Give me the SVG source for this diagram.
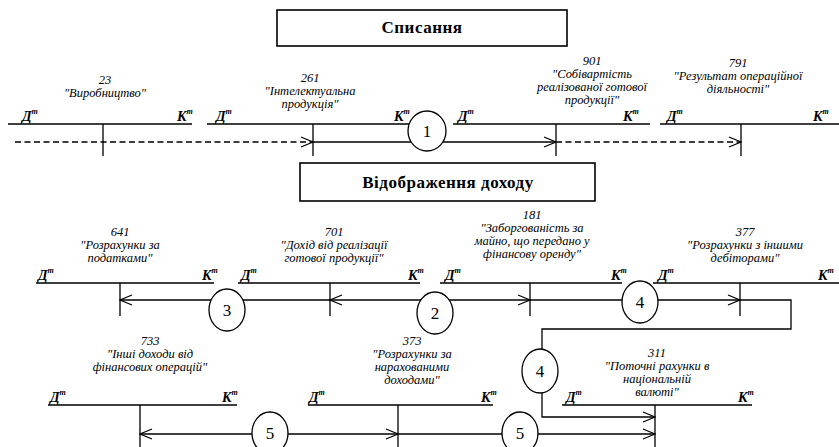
<svg xmlns="http://www.w3.org/2000/svg" width="839" height="447" viewBox="0 0 839 447">
<defs>
<marker id="arr" markerUnits="userSpaceOnUse" markerWidth="14" markerHeight="12" viewBox="0 0 14 12" refX="13" refY="6" orient="auto">
<path d="M1,1 L13,6 L1,11" fill="none" stroke="#000" stroke-width="1.3"/>
</marker>
<style>
.ln{stroke:#000;stroke-width:1.3;fill:none}
.bx{fill:#fff;stroke:#000;stroke-width:1.6}
.bt{font-weight:bold;font-size:17px;letter-spacing:0.5px;text-anchor:middle}
.tt{font-style:italic;font-size:12.5px;text-anchor:middle}
.dk{font-style:italic;font-weight:bold;font-size:14px}
.sp{font-size:8px}
.ci{fill:#fff;stroke:#000;stroke-width:1.3}
.cn{font-size:17px;text-anchor:middle}
.da{stroke-dasharray:6 3.5}
</style>
</defs>
<rect width="839" height="447" fill="#fff"/>
<g font-family="Liberation Serif, DejaVu Serif, serif">

<g id="box-spysannia">
<rect class="bx" x="277" y="10" width="290" height="36"/>
<text class="bt" x="422" y="33">Списання</text>
</g>
<g id="box-vidobrazhennia">
<rect class="bx" x="300" y="163" width="295" height="38"/>
<text class="bt" x="448" y="188">Відображення доходу</text>
</g>

<g id="connectors">
<path class="ln da" d="M15,142 H313" marker-end="url(#arr)"/>
<path class="ln" d="M313,142 H427"/>
<path class="ln" d="M427,142 H556" marker-end="url(#arr)"/>
<path class="ln da" d="M556,142 H741" marker-end="url(#arr)"/>
<path class="ln" d="M330,300 H120" marker-end="url(#arr)"/>
<path class="ln" d="M435,300 H330" marker-end="url(#arr)"/>
<path class="ln" d="M435,300 H530" marker-end="url(#arr)"/>
<path class="ln" d="M530,300 H740" marker-end="url(#arr)"/>
<path class="ln" d="M740,300 H791 V329 H542 V417 H655" marker-end="url(#arr)"/>
<path class="ln" d="M270,434 H140" marker-end="url(#arr)"/>
<path class="ln" d="M270,434 H398" marker-end="url(#arr)"/>
<path class="ln" d="M398,434 H655" marker-end="url(#arr)"/>
</g>

<g id="acc-23">
<text class="tt" x="105" y="84">23</text>
<text class="tt" x="105" y="97">"Виробництво"</text>
<path class="ln" d="M8,124 H192 M103,124 V156"/>
<text class="dk" x="22" y="121">Д<tspan class="sp" dy="-7">т</tspan></text>
<text class="dk" x="177" y="121">К<tspan class="sp" dy="-7">т</tspan></text>
</g>
<g id="acc-261">
<text class="tt" x="310" y="82">261</text>
<text class="tt" x="310" y="95">"Інтелектуальна</text>
<text class="tt" x="310" y="108">продукція"</text>
<path class="ln" d="M207,124 H410 M313,124 V156"/>
<text class="dk" x="216" y="121">Д<tspan class="sp" dy="-7">т</tspan></text>
<text class="dk" x="394" y="121">К<tspan class="sp" dy="-7">т</tspan></text>
</g>
<g id="acc-901">
<text class="tt" x="592" y="65">901</text>
<text class="tt" x="592" y="78">"Собівартість</text>
<text class="tt" x="592" y="91">реалізованої готової</text>
<text class="tt" x="592" y="104">продукції"</text>
<path class="ln" d="M453,124 H650 M556,124 V156"/>
<text class="dk" x="458" y="121">Д<tspan class="sp" dy="-7">т</tspan></text>
<text class="dk" x="623" y="121">К<tspan class="sp" dy="-7">т</tspan></text>
</g>
<g id="acc-791">
<text class="tt" x="738" y="67">791</text>
<text class="tt" x="738" y="80">"Результат операційної</text>
<text class="tt" x="738" y="93">діяльності"</text>
<path class="ln" d="M660,124 H839 M741,124 V156"/>
<text class="dk" x="667" y="121">Д<tspan class="sp" dy="-7">т</tspan></text>
<text class="dk" x="813" y="121">К<tspan class="sp" dy="-7">т</tspan></text>
</g>

<g id="acc-641">
<text class="tt" x="120" y="236">641</text>
<text class="tt" x="120" y="249">"Розрахунки за</text>
<text class="tt" x="120" y="262">податками"</text>
<path class="ln" d="M36,283 H214 M120,283 V316"/>
<text class="dk" x="38" y="280">Д<tspan class="sp" dy="-7">т</tspan></text>
<text class="dk" x="202" y="280">К<tspan class="sp" dy="-7">т</tspan></text>
</g>
<g id="acc-701">
<text class="tt" x="334" y="236">701</text>
<text class="tt" x="334" y="249">"Дохід від реалізації</text>
<text class="tt" x="334" y="262">готової продукції"</text>
<path class="ln" d="M238,283 H420 M330,283 V316"/>
<text class="dk" x="241" y="280">Д<tspan class="sp" dy="-7">т</tspan></text>
<text class="dk" x="408" y="280">К<tspan class="sp" dy="-7">т</tspan></text>
</g>
<g id="acc-181">
<text class="tt" x="532" y="219">181</text>
<text class="tt" x="532" y="232">"Заборгованість за</text>
<text class="tt" x="532" y="245">майно, що передано у</text>
<text class="tt" x="532" y="258">фінансову оренду"</text>
<path class="ln" d="M440,283 H622 M530,283 V316"/>
<text class="dk" x="445" y="280">Д<tspan class="sp" dy="-7">т</tspan></text>
<text class="dk" x="611" y="280">К<tspan class="sp" dy="-7">т</tspan></text>
</g>
<g id="acc-377">
<text class="tt" x="745" y="236">377</text>
<text class="tt" x="745" y="249">"Розрахунки з іншими</text>
<text class="tt" x="745" y="262">дебіторами"</text>
<path class="ln" d="M653,283 H839 M740,283 V316"/>
<text class="dk" x="658" y="280">Д<tspan class="sp" dy="-7">т</tspan></text>
<text class="dk" x="818" y="280">К<tspan class="sp" dy="-7">т</tspan></text>
</g>

<g id="acc-733">
<text class="tt" x="150" y="345">733</text>
<text class="tt" x="150" y="358">"Інші доходи від</text>
<text class="tt" x="150" y="371">фінансових операцій"</text>
<path class="ln" d="M48,405 H237 M140,405 V447"/>
<text class="dk" x="50" y="402">Д<tspan class="sp" dy="-7">т</tspan></text>
<text class="dk" x="222" y="402">К<tspan class="sp" dy="-7">т</tspan></text>
</g>
<g id="acc-373">
<text class="tt" x="412" y="345">373</text>
<text class="tt" x="412" y="358">"Розрахунки за</text>
<text class="tt" x="412" y="371">нарахованими</text>
<text class="tt" x="412" y="384">доходами"</text>
<path class="ln" d="M308,405 H493 M398,405 V447"/>
<text class="dk" x="309" y="402">Д<tspan class="sp" dy="-7">т</tspan></text>
<text class="dk" x="481" y="402">К<tspan class="sp" dy="-7">т</tspan></text>
</g>
<g id="acc-311">
<text class="tt" x="657" y="357">311</text>
<text class="tt" x="657" y="370">"Поточні рахунки в</text>
<text class="tt" x="657" y="383">національній</text>
<text class="tt" x="657" y="396">валюті"</text>
<path class="ln" d="M562,405 H752 M655,405 V447"/>
<text class="dk" x="566" y="402">Д<tspan class="sp" dy="-7">т</tspan></text>
<text class="dk" x="738" y="402">К<tspan class="sp" dy="-7">т</tspan></text>
</g>

<g id="op-1"><ellipse class="ci" cx="427" cy="131" rx="19" ry="20"/><text class="cn" x="427" y="137">1</text></g>
<g id="op-3"><ellipse class="ci" cx="227" cy="310" rx="18" ry="21"/><text class="cn" x="227" y="316">3</text></g>
<g id="op-2"><ellipse class="ci" cx="435" cy="313" rx="18" ry="21"/><text class="cn" x="435" y="319">2</text></g>
<g id="op-4a"><ellipse class="ci" cx="640" cy="302" rx="18" ry="21"/><text class="cn" x="640" y="308">4</text></g>
<g id="op-4b"><ellipse class="ci" cx="540" cy="371" rx="18" ry="22"/><text class="cn" x="540" y="377">4</text></g>
<g id="op-5a"><ellipse class="ci" cx="270" cy="433" rx="18" ry="21"/><text class="cn" x="270" y="439">5</text></g>
<g id="op-5b"><ellipse class="ci" cx="520" cy="433" rx="18" ry="21"/><text class="cn" x="520" y="439">5</text></g>
</g>
</svg>
